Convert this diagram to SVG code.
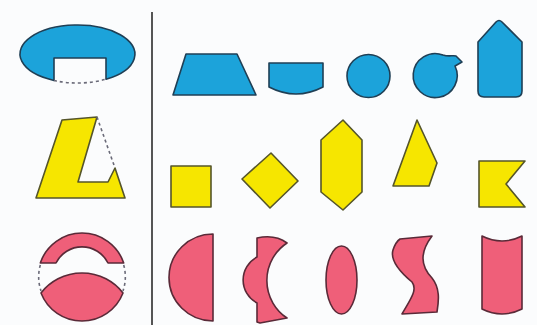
<svg xmlns="http://www.w3.org/2000/svg" width="537" height="325" viewBox="0 0 537 325">
<style>
.b{fill:#1ca3da;stroke:#1f3f55;stroke-width:1.6;stroke-linejoin:round}
.y{fill:#f6e600;stroke:#55552a;stroke-width:1.6;stroke-linejoin:round}
.p{fill:#ef5f79;stroke:#5a2a38;stroke-width:1.6;stroke-linejoin:round}
.d{fill:none;stroke:#6a6a78;stroke-width:1.6;stroke-dasharray:3 3}
</style>
<rect width="537" height="325" fill="#fbfcfd"/>
<line x1="152" y1="12" x2="152" y2="325" stroke="#555" stroke-width="2"/>
<g id="blue-cut">
<path class="b" d="M54,80.5 L54,58 L106,58 L106,79.2 A57.5,29 0 1 0 54,80.5 Z"/>
<path class="d" d="M54,80.5 A57.5,29 0 0 0 106,79.2"/>
</g>
<g id="yellow-cut">
<path class="y" d="M62,120 L97,117 L78,182 L108,182 L115,168 L125,198 L36,198 Z"/>
<line class="d" x1="97" y1="117" x2="115" y2="168"/>
</g>
<g id="pink-cut">
<path class="p" d="M40.3,263 A44,44 0 0 1 123.7,263 L108,263 A29,29 0 0 0 56,263 Z"/>
<path class="p" d="M41,293 A52,52 0 0 1 123,293 A44,44 0 0 1 41,293 Z"/>
<path class="d" d="M40.3,265 A44,44 0 0 0 41,291"/>
<path class="d" d="M123.7,265 A44,44 0 0 1 123,291"/>
</g>
<g id="trapezoid"><path class="b" d="M186,54 L237,54 L256,95 L173,95 Z"/></g>
<g id="rounded-rect"><path class="b" d="M269,63 L323,63 L323,87 Q296,101 269,87 Z"/></g>
<g id="circle"><circle class="b" cx="368.5" cy="76" r="21.5"/></g>
<g id="circle-tail"><path class="b" d="M455,66 A22,22 0 1 1 443,55 C449,57 453,55 456,56 L462,62 Z"/></g>
<g id="pentagon"><path class="b" d="M478,42 L496,22 Q499,19 502,22 L522,42 L522,91 Q522,97 516,97 L484,97 Q478,97 478,91 Z"/></g>
<g id="square"><rect class="y" x="171" y="166" width="40" height="41"/></g>
<g id="diamond"><path class="y" d="M271,153 L298,181 L270,208 L242,179 Z"/></g>
<g id="hexagon"><path class="y" d="M343,120 L362,140 L362,192 L343,210 L321,192 L321,140 Z"/></g>
<g id="quad"><path class="y" d="M417,120 L437,163 L429,186 L393,186 Z"/></g>
<g id="flag"><path class="y" d="M479,161 L525,161 L506,184 L525,207 L479,207 Z"/></g>
<g id="half-disc"><path class="p" d="M213,234 L213,321 A44,43.5 0 0 1 213,234 Z"/></g>
<g id="crescent"><path class="p" d="M257,238 Q275,234 287,243 A45,45 0 0 0 287,318 L260,323 L257,322 L257,303 A26,26 0 0 1 257,257 Z"/></g>
<g id="ellipse"><ellipse class="p" cx="341.5" cy="280" rx="15.5" ry="34"/></g>
<g id="s-shape"><path class="p" d="M400,239 L432,236 C420,252 420,265 432,278 C440,288 439,300 437,312 L402,314 C410,300 418,290 412,282 C400,272 390,260 393,250 C395,244 397,241 400,239 Z"/></g>
<g id="barrel"><path class="p" d="M482,236 Q502,246 522,236 L522,309 Q502,319 482,309 Z"/></g>
</svg>
